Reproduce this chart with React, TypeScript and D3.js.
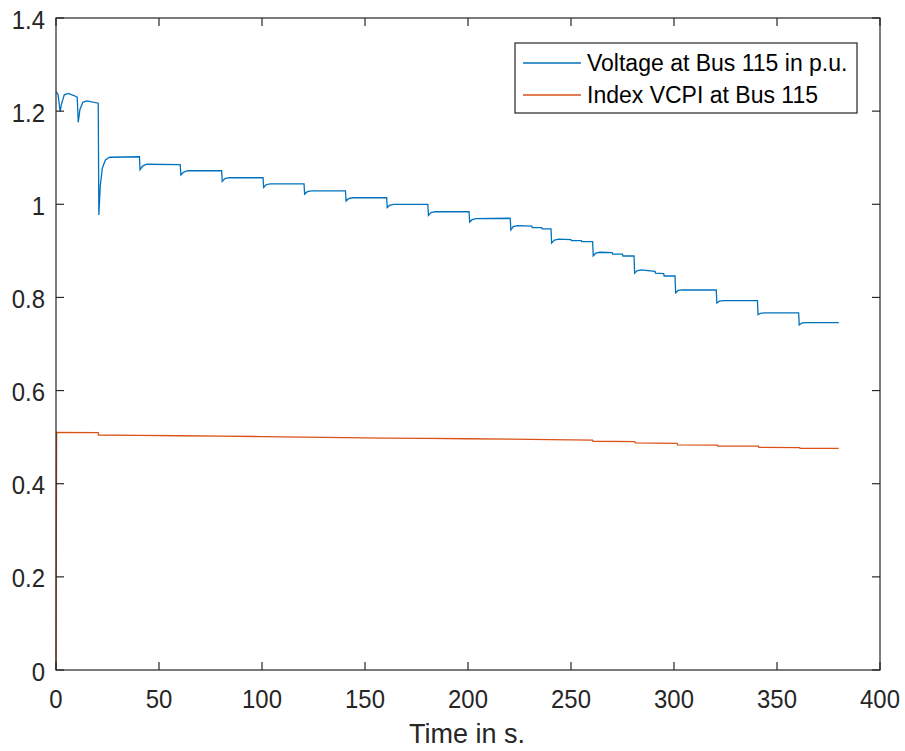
import React from "react";
import * as d3 from "d3";

const xTicks = [0, 50, 100, 150, 200, 250, 300, 350, 400];
const yTicks = [0, 0.2, 0.4, 0.6, 0.8, 1, 1.2, 1.4];
const yTickLabels = ["0", "0.2", "0.4", "0.6", "0.8", "1", "1.2", "1.4"];

const seriesNames = ["Voltage at Bus 115 in p.u.", "Index VCPI at Bus 115"];
const seriesColors = ["#0072BD", "#D95319"];

const voltageT = [
  0, 1, 2, 2.6, 4, 6, 9, 10.3, 10.8, 11.6, 13, 15, 20.5, 20.8, 21.5, 22.5, 24, 26,
  40.5, 40.8, 42, 44, 60.3, 60.6, 62, 64, 80.4, 80.7, 82, 84,
  100.5, 100.8, 102, 104, 120.4, 120.7, 122, 124, 140.5, 140.8, 142, 144,
  160.5, 160.8, 162, 164, 180.5, 180.8, 182, 184, 200.5, 200.8, 202, 204,
  220.5, 220.8, 222, 224, 231, 231.2, 235.8, 236, 240.3,
  240.6, 242, 244, 250, 250.2, 255, 255.2, 260.5,
  260.8, 262, 264, 270, 270.2, 275, 275.2, 280.6,
  280.9, 282, 284, 290.8, 291, 295, 295.2, 300.5,
  300.8, 302, 304, 320.5, 320.8, 322, 324, 340.5, 340.8, 342, 344,
  360.5, 360.8, 362, 364, 380,
];
const voltageV = [
  1.242, 1.236, 1.199, 1.214, 1.235, 1.238, 1.233, 1.23, 1.176, 1.203, 1.219, 1.222, 1.217, 0.977, 1.04, 1.078, 1.095, 1.101,
  1.102, 1.074, 1.082, 1.086, 1.085, 1.063, 1.069, 1.072, 1.072, 1.049, 1.055, 1.057,
  1.057, 1.036, 1.042, 1.044, 1.044, 1.022, 1.027, 1.029, 1.029, 1.007, 1.012, 1.014,
  1.014, 0.993, 0.998, 1.0, 1.0, 0.976, 0.982, 0.984, 0.984, 0.962, 0.967, 0.969,
  0.97, 0.945, 0.952, 0.954, 0.953, 0.95, 0.95, 0.947, 0.947,
  0.917, 0.923, 0.925, 0.924, 0.922, 0.922, 0.92, 0.92,
  0.889, 0.895, 0.897, 0.896, 0.893, 0.893, 0.889, 0.889,
  0.852, 0.857, 0.859, 0.856, 0.852, 0.851, 0.846, 0.846,
  0.81, 0.815, 0.816, 0.816, 0.788, 0.792, 0.793, 0.793, 0.763, 0.766, 0.767,
  0.767, 0.741, 0.745, 0.746, 0.746,
];

const vcpiT = [0, 0.3, 20.5, 20.6, 40, 60, 80, 100, 120, 140, 160, 180, 200, 220, 240, 260.5, 260.7, 281, 281.2, 301.5, 301.7, 321, 321.2, 341, 341.2, 361, 361.2, 380];
const vcpiV = [0, 0.51, 0.5096, 0.5046, 0.5038, 0.503, 0.5022, 0.5012, 0.5, 0.499, 0.498, 0.4975, 0.4965, 0.4958, 0.4945, 0.4935, 0.4912, 0.4905, 0.4875, 0.4868, 0.4832, 0.4828, 0.481, 0.4805, 0.478, 0.4775, 0.476, 0.4758];

const W = 905;
const H = 751;
const left = 56;
const right = 880;
const top = 18;
const bottom = 670;
const axisColor = "#262626";
const font = "'Liberation Sans', Arial, sans-serif";

export default function App() {
  const x = d3.scaleLinear().domain([0, 400]).range([left, right]);
  const y = d3.scaleLinear().domain([0, 1.4]).range([bottom, top]);
  const line = d3
    .line<[number, number]>()
    .x((d) => x(d[0]))
    .y((d) => y(d[1]));
  const vData = voltageT.map((t, i) => [t, voltageV[i]] as [number, number]);
  const cData = vcpiT.map((t, i) => [t, vcpiV[i]] as [number, number]);
  const tickLen = 8;

  return (
    <svg
      width={W}
      height={H}
      style={{ position: "absolute", left: 0, top: 0, background: "#fff" }}
      fontFamily={font}
    >
      <rect x={0} y={0} width={W} height={H} fill="#fff" />
      <path d={line(cData) || ""} fill="none" stroke={seriesColors[1]} strokeWidth={1.3} />
      <path d={line(vData) || ""} fill="none" stroke={seriesColors[0]} strokeWidth={1.3} />

      <rect x={left} y={top} width={right - left} height={bottom - top} fill="none" stroke={axisColor} strokeWidth={1.2} />

      {xTicks.map((t) => (
        <g key={"x" + t}>
          <line x1={x(t)} x2={x(t)} y1={bottom} y2={bottom - tickLen} stroke={axisColor} strokeWidth={1.2} />
          <line x1={x(t)} x2={x(t)} y1={top} y2={top + tickLen} stroke={axisColor} strokeWidth={1.2} />
          <g transform={`translate(${x(t)},708) scale(0.92,1)`}>
            <text x={0} y={0} textAnchor="middle" fontSize={26} fill={axisColor}>
              {t}
            </text>
          </g>
        </g>
      ))}
      {yTicks.map((t, i) => (
        <g key={"y" + t}>
          <line x1={left} x2={left + tickLen} y1={y(t)} y2={y(t)} stroke={axisColor} strokeWidth={1.2} />
          <line x1={right} x2={right - tickLen} y1={y(t)} y2={y(t)} stroke={axisColor} strokeWidth={1.2} />
          <g transform={`translate(45,${y(t) + 10.5}) scale(0.92,1)`}>
            <text x={0} y={0} textAnchor="end" fontSize={26} fill={axisColor}>
              {yTickLabels[i]}
            </text>
          </g>
        </g>
      ))}
      <text x={467} y={743} textAnchor="middle" fontSize={27} fill={axisColor}>
        Time in s.
      </text>

      <rect x={515} y={43} width={342} height={70} fill="#fff" stroke={axisColor} strokeWidth={1.2} />
      {seriesNames.map((name, i) => (
        <g key={name}>
          <line x1={523} x2={581} y1={63 + i * 32} y2={63 + i * 32} stroke={seriesColors[i]} strokeWidth={1.3} />
          <text x={587} y={71 + i * 32} fontSize={23} fill="#000">
            {name}
          </text>
        </g>
      ))}
    </svg>
  );
}
